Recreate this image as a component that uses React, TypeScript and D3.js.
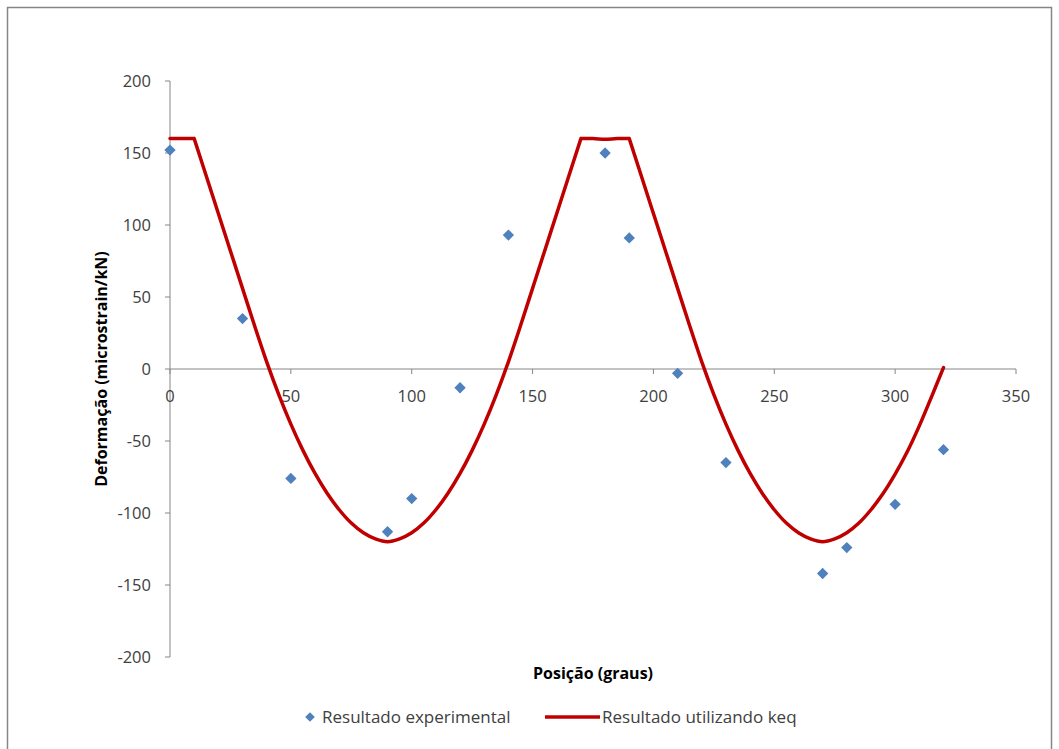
import React from "react";
import * as d3 from "d3";

// Experimental readings (position in degrees, strain per kN)
const expAngles = [0, 30, 50, 90, 100, 120, 140, 180, 190, 210, 230, 270, 280, 300, 320];
const expValues = [152, 35, -76, -113, -90, -13, 93, 150, 91, -3, -65, -142, -124, -94, -56];

// Model curve using keq, sampled every 5 degrees
const modelAngles = [
  0, 5, 10, 15, 20, 25, 30, 35, 40, 45, 50, 55, 60, 65, 70, 75, 80, 85, 90, 95, 100, 105, 110, 115, 120,
  125, 130, 135, 140, 145, 150, 155, 160, 165, 170, 175, 180, 185, 190, 195, 200, 205, 210, 215, 220,
  225, 230, 235, 240, 245, 250, 255, 260, 265, 270, 275, 280, 285, 290, 295, 300, 305, 310, 315, 320,
];
const modelValues = [
  160, 160, 160, 134, 108, 82, 56, 30, 5, -17.75, -38.25, -56.5, -72.5, -86.25, -97.75, -107, -113.75, -118, -120,
  -118, -113.75, -107, -97.75, -86.25, -72.5, -56.5, -38.25, -17.75, 5, 30, 56, 82, 108, 134, 160,
  160, 159.5, 160, 160, 134, 108, 82, 56, 30, 5, -17.75, -38.25, -56.5, -72.5, -86.25, -97.75, -107, -113.75, -118, -120,
  -118, -113.75, -107, -97.75, -86.5, -73, -57.5, -39.5, -19.5, 1,
];
// Angles where the model leaves / rejoins its flat plateau (kinks in the curve)
const kinkAngles = [10, 170, 190];

const xTicks = [0, 50, 100, 150, 200, 250, 300, 350];
const yTicks = [-200, -150, -100, -50, 0, 50, 100, 150, 200];

const seriesNames = ["Resultado experimental", "Resultado utilizando keq"];
const xTitle = "Posição (graus)";
const yTitle = "Deformação (microstrain/kN)";

const W = 1059;
const H = 749;
const FONT = "'Open Sans', 'Noto Sans', sans-serif";
const AXIS = "#868686";
const LABEL = "#404040";
const RED = "#C00000";
const BLUE = "#4F81BD";

export default function App() {
  const x = d3.scaleLinear().domain([0, 350]).range([170, 1016]);
  const y = d3.scaleLinear().domain([-200, 200]).range([657, 81]);
  const y0 = y(0);

  const points: [number, number][] = modelAngles.map((a, i) => [a, modelValues[i]]);

  // split the model into smooth pieces at the kinks
  const pieces: [number, number][][] = [];
  let current: [number, number][] = [];
  points.forEach((p) => {
    current.push(p);
    if (kinkAngles.includes(p[0])) {
      pieces.push(current);
      current = [p];
    }
  });
  if (current.length > 1) pieces.push(current);

  const line = d3
    .line<[number, number]>()
    .x((d) => x(d[0]))
    .y((d) => y(d[1]))
    .curve(d3.curveCatmullRom.alpha(0.5));

  const curvePath = pieces.map((pc) => line(pc) || "").join("");

  const diamond = d3.symbol().type(d3.symbolSquare).size(64)();

  return (
    <svg
      width={W}
      height={H}
      style={{ position: "absolute", left: 0, top: 0, background: "#fff" }}
      fontFamily={FONT}
    >
      <rect x={7.5} y={7.5} width={1044} height={800} fill="#fff" stroke={AXIS} strokeWidth={1.5} />

      {/* y axis */}
      <line x1={x(0)} x2={x(0)} y1={y(200)} y2={y(-200)} stroke={AXIS} strokeWidth={1} />
      {yTicks.map((t) => (
        <g key={"y" + t}>
          <line x1={x(0) - 5} x2={x(0)} y1={y(t)} y2={y(t)} stroke={AXIS} strokeWidth={1} />
          <text x={151} y={y(t)} dy="0.35em" textAnchor="end" fontSize={16.5} fill={LABEL}>
            {t}
          </text>
        </g>
      ))}

      {/* x axis at zero */}
      <line x1={x(0)} x2={x(350)} y1={y0} y2={y0} stroke={AXIS} strokeWidth={1} />
      {xTicks.map((t) => (
        <g key={"x" + t}>
          <line x1={x(t)} x2={x(t)} y1={y0} y2={y0 + 5} stroke={AXIS} strokeWidth={1} />
          <text x={x(t)} y={396} dy="0.35em" textAnchor="middle" fontSize={16.5} fill={LABEL}>
            {t}
          </text>
        </g>
      ))}

      {/* model curve */}
      <path
        d={curvePath}
        fill="none"
        stroke={RED}
        strokeWidth={3.5}
        strokeLinejoin="round"
        strokeLinecap="round"
      />

      {/* experimental points */}
      {expAngles.map((a, i) => (
        <path
          key={"p" + a}
          d={diamond || ""}
          transform={`translate(${x(a)},${y(expValues[i])}) rotate(45)`}
          fill={BLUE}
        />
      ))}

      {/* axis titles */}
      <text
        transform={`translate(101,${(y(200) + y(-200)) / 2}) rotate(-90)`}
        textAnchor="middle"
        dy="0.35em"
        fontSize={16}
        fontWeight="bold"
        fill="#000"
      >
        {yTitle}
      </text>
      <text x={(x(0) + x(350)) / 2} y={673} dy="0.35em" textAnchor="middle" fontSize={16} fontWeight="bold" fill="#000">
        {xTitle}
      </text>

      {/* legend */}
      <path d={diamond || ""} transform="translate(310,717) rotate(45) scale(0.85)" fill={BLUE} />
      <text x={322} y={717} dy="0.35em" fontSize={17} fill={LABEL}>
        {seriesNames[0]}
      </text>
      <line x1={545} x2={600} y1={717} y2={717} stroke={RED} strokeWidth={3.5} />
      <text x={602} y={717} dy="0.35em" fontSize={17} fill={LABEL}>
        {seriesNames[1]}
      </text>
    </svg>
  );
}
